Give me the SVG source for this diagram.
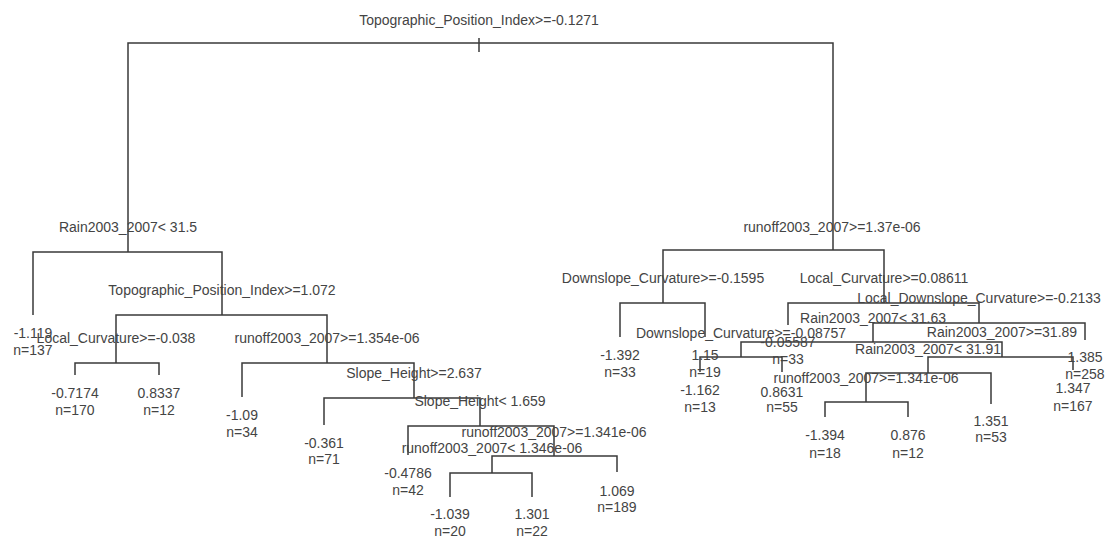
<svg xmlns="http://www.w3.org/2000/svg" width="1106" height="539" viewBox="0 0 1106 539">
<style>
text{font-family:"Liberation Sans",Arial,sans-serif;font-size:14px;fill:#444;text-anchor:middle;}
.e{fill:none;stroke:#3a3a3a;stroke-width:1.5;}
</style>
<rect width="1106" height="539" fill="#fff"/>
<g id="connectors" class="e">
<path d="M128 252V43H833V250"/>
<path d="M479 38V52"/>
<path d="M33 315V252H222V315"/>
<path d="M116 363V315H327V363"/>
<path d="M75 375V363H159V375"/>
<path d="M242 397V363H414V398"/>
<path d="M324 425V398H480V426"/>
<path d="M408 455V426H554V456"/>
<path d="M492 473V456H617V472"/>
<path d="M450 497V473H532V497"/>
<path d="M663 303V250H884V303"/>
<path d="M620 337V303H705V337"/>
<path d="M788 325V303H979V323"/>
<path d="M873 342V323H1085V340"/>
<path d="M741 357V342H1002V357"/>
<path d="M700 372V357H782V372"/>
<path d="M928 373V357H1073V370"/>
<path d="M866 402V373H991V404"/>
<path d="M825 417V402H908V417"/>
</g>
<g id="n1"><text x="479" y="25">Topographic_Position_Index&gt;=-0.1271</text></g>
<g id="n2"><text x="128" y="232">Rain2003_2007&lt; 31.5</text></g>
<g id="n3"><text x="832" y="232">runoff2003_2007&gt;=1.37e-06</text></g>
<g id="n4"><text x="222" y="295">Topographic_Position_Index&gt;=1.072</text></g>
<g id="n5"><text x="116" y="343">Local_Curvature&gt;=-0.038</text></g>
<g id="n6"><text x="327" y="343">runoff2003_2007&gt;=1.354e-06</text></g>
<g id="n7"><text x="414" y="378">Slope_Height&gt;=2.637</text></g>
<g id="n8"><text x="480" y="406">Slope_Height&lt; 1.659</text></g>
<g id="n9"><text x="554" y="437">runoff2003_2007&gt;=1.341e-06</text></g>
<g id="n10"><text x="492" y="453">runoff2003_2007&lt; 1.346e-06</text></g>
<g id="n11"><text x="663" y="283">Downslope_Curvature&gt;=-0.1595</text></g>
<g id="n12"><text x="884" y="283">Local_Curvature&gt;=0.08611</text></g>
<g id="n13"><text x="979" y="303">Local_Downslope_Curvature&gt;=-0.2133</text></g>
<g id="n14"><text x="873" y="323">Rain2003_2007&lt; 31.63</text></g>
<g id="n15"><text x="741" y="338">Downslope_Curvature&gt;=-0.08757</text></g>
<g id="n16"><text x="1002" y="337">Rain2003_2007&gt;=31.89</text></g>
<g id="n17"><text x="928" y="354">Rain2003_2007&lt; 31.91</text></g>
<g id="n18"><text x="866" y="383">runoff2003_2007&gt;=1.341e-06</text></g>
<g id="l1"><text x="33" y="338">-1.119</text><text x="33" y="355">n=137</text></g>
<g id="l2"><text x="75" y="398">-0.7174</text><text x="75" y="415">n=170</text></g>
<g id="l3"><text x="159" y="398">0.8337</text><text x="159" y="415">n=12</text></g>
<g id="l4"><text x="242" y="420">-1.09</text><text x="242" y="437">n=34</text></g>
<g id="l5"><text x="324" y="448">-0.361</text><text x="324" y="464">n=71</text></g>
<g id="l6"><text x="408" y="478">-0.4786</text><text x="408" y="495">n=42</text></g>
<g id="l7"><text x="617" y="496">1.069</text><text x="617" y="512">n=189</text></g>
<g id="l8"><text x="450" y="519">-1.039</text><text x="450" y="536">n=20</text></g>
<g id="l9"><text x="532" y="519">1.301</text><text x="532" y="536">n=22</text></g>
<g id="l10"><text x="620" y="360">-1.392</text><text x="620" y="377">n=33</text></g>
<g id="l11"><text x="705" y="360">1.15</text><text x="705" y="377">n=19</text></g>
<g id="l12"><text x="788" y="347">-0.05587</text><text x="788" y="364">n=33</text></g>
<g id="l13"><text x="700" y="395">-1.162</text><text x="700" y="412">n=13</text></g>
<g id="l14"><text x="782" y="397">0.8631</text><text x="782" y="412">n=55</text></g>
<g id="l15"><text x="825" y="440">-1.394</text><text x="825" y="458">n=18</text></g>
<g id="l16"><text x="908" y="440">0.876</text><text x="908" y="458">n=12</text></g>
<g id="l17"><text x="991" y="426">1.351</text><text x="991" y="442">n=53</text></g>
<g id="l18"><text x="1073" y="393">1.347</text><text x="1073" y="411">n=167</text></g>
<g id="l19"><text x="1085" y="362">1.385</text><text x="1085" y="379">n=258</text></g>
</svg>
